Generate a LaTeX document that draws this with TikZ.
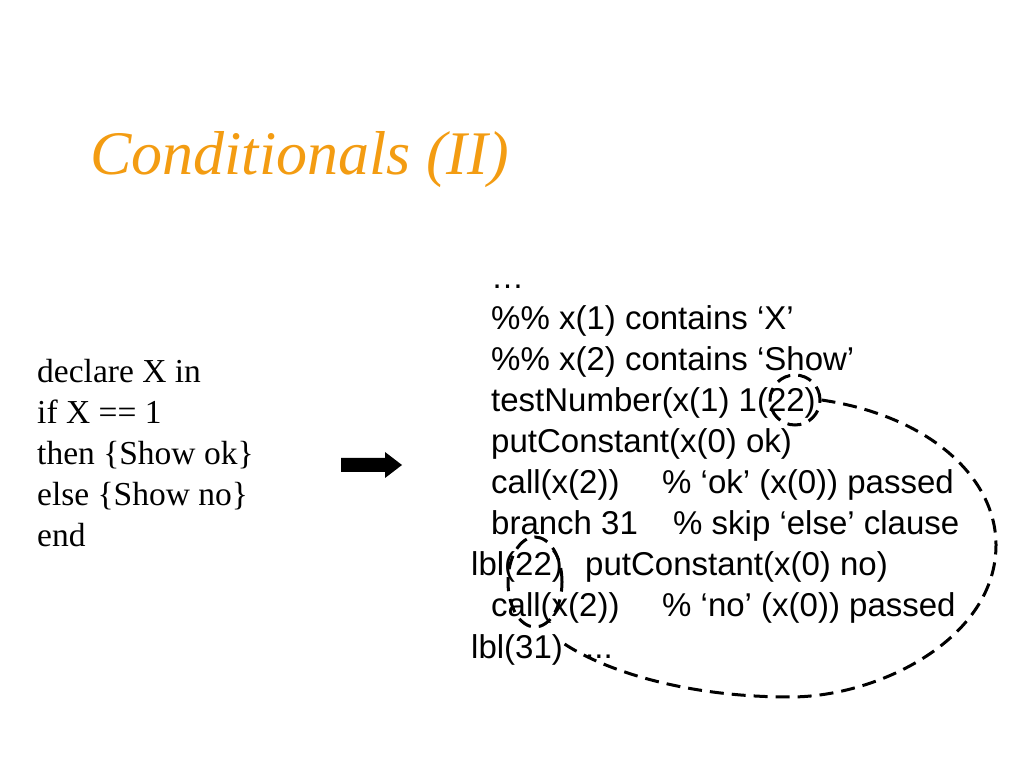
\documentclass[tikz,border=0pt]{standalone}
\usepackage{fontspec}
\setmainfont{Liberation Serif}
\newfontfamily\codefont{Liberation Sans}
\usetikzlibrary{shapes.geometric}

\begin{document}
\begin{tikzpicture}[
    x=1pt, y=1pt,
]

\definecolor{title_color}{RGB}{243,156,18}

\tikzstyle{src} = [anchor=base west, inner sep=0, font=\fontsize{33.5}{40}\selectfont]
\tikzstyle{code} = [anchor=base west, inner sep=0, font=\codefont\fontsize{33}{40}\selectfont]
\tikzstyle{ring} = [draw=black, dash pattern=on 14pt off 8pt, line width=3pt]

\useasboundingbox (0,0) rectangle (1024,768);

\node (title) [anchor=base west, inner sep=0, text=title_color, font=\itshape\fontsize{62}{70}\selectfont] at (90,593) {Conditionals (II)};

\node (declare) [src] at (37,385) {declare X in};
\node (ifx) [src] at (37,344) {if X == 1};
\node (thenshow) [src] at (37,303) {then \{Show ok\}};
\node (elseshow) [src] at (37,262) {else \{Show no\}};
\node (endkw) [src] at (37,221) {end};

\fill[black] (341,310) -- (385,310) -- (385,316) -- (402,303) -- (385,290) -- (385,296) -- (341,296) -- cycle;

\node (dots) [code] at (491,479) {…};
\node (contx) [code] at (491,438) {\%\% x(1) contains ‘X’};
\node (contshow) [code] at (491,397) {\%\% x(2) contains ‘Show’};
\node (testnum) [code] at (491,356) {testNumber(x(1) 1(22)};
\node (putok) [code] at (491,315) {putConstant(x(0) ok)};
\node (callok) [code] at (491,274) {call(x(2))};
\node (okcomment) [code] at (662,274) {\% ‘ok’ (x(0)) passed};
\node (branch) [code] at (491,233) {branch 31};
\node (skipcomment) [code] at (673,233) {\% skip ‘else’ clause};
\node (lbltt) [code] at (471,192) {lbl(22)};
\node (putno) [code] at (585,192) {putConstant(x(0) no)};
\node (callno) [code] at (491,151) {call(x(2))};
\node (nocomment) [code] at (662,151) {\% ‘no’ (x(0)) passed};
\node (lbltho) [code] at (471,110) {lbl(31)};
\node (tail) [code] at (585,110) {...};

\node (ringtest) [ring, circle, minimum size=50pt, inner sep=0] at (795,368) {};
\node (ringlbl) [ring, ellipse, minimum width=54pt, minimum height=90pt, inner sep=0] at (535,186) {};
\coordinate (loopend) at (563,125);

\draw[ring] (ringtest.east) .. controls (930,352) and (996,290) .. (996,223)
    .. controls (996,130) and (880,71) .. (790,71)
    .. controls (680,71) and (600,100) .. (loopend);

\end{tikzpicture}
\end{document}
